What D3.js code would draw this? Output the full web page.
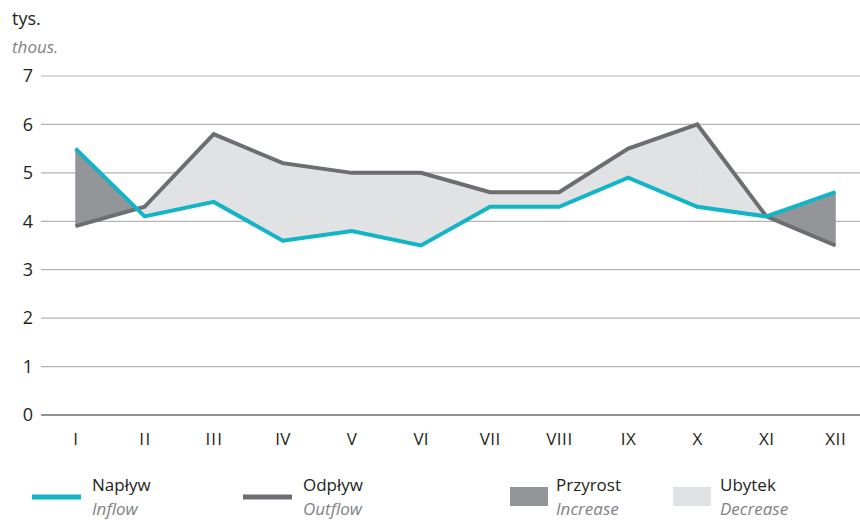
<!DOCTYPE html>
<html>
<head>
<meta charset="utf-8">
<script src="https://cdn.jsdelivr.net/npm/d3@7"></script>
<style>
  body { margin: 0; background: #fff; }
  svg { display: block; }
</style>
</head>
<body>
<div id="chart"></div>
<script>
// Napływ / odpływ – monthly, thousands
const months = ["I", "II", "III", "IV", "V", "VI", "VII", "VIII", "IX", "X", "XI", "XII"];
const inflow  = [5.5, 4.1, 4.4, 3.6, 3.8, 3.5, 4.3, 4.3, 4.9, 4.3, 4.1, 4.6];
const outflow = [3.9, 4.3, 5.8, 5.2, 5.0, 5.0, 4.6, 4.6, 5.5, 6.0, 4.1, 3.5];
const yTicks  = [0, 1, 2, 3, 4, 5, 6, 7];

const W = 860, H = 520;
const FONT = "'Open Sans', 'Noto Sans', sans-serif";
const C_IN = "#12b5c6", C_OUT = "#6d6e71", C_UP = "#939598", C_DOWN = "#e1e2e4";

const svg = d3.select("#chart").append("svg")
  .attr("width", W).attr("height", H)
  .attr("font-family", FONT);

const x = d3.scaleBand().domain(months).range([41, 870]).padding(0);
const cx = (i) => x(months[i]) + x.bandwidth() / 2;
const y = d3.scaleLinear().domain([0, 7]).range([415, 76]);

// gridlines
svg.append("g").selectAll("line").data(yTicks).join("line")
  .attr("x1", 41).attr("x2", W)
  .attr("y1", d => y(d)).attr("y2", d => y(d))
  .attr("stroke", d => d === 0 ? "#6d6e71" : "#b3b3b3")
  .attr("stroke-width", d => d === 0 ? 1.5 : 1.2);

svg.append("g").selectAll("text").data(yTicks).join("text")
  .attr("x", 33).attr("y", d => y(d))
  .attr("dy", "0.35em")
  .attr("text-anchor", "end")
  .attr("font-size", 18).attr("fill", "#231f20")
  .text(d => d);

svg.append("g").selectAll("text").data(months).join("text")
  .attr("x", (d, i) => cx(i)).attr("y", 445)
  .attr("text-anchor", "middle")
  .attr("font-size", 17).attr("fill", "#231f20")
  .attr("textLength", d => d.length * 5.5 + (d.match(/[VX]/g) || []).length * 4)
  .text(d => d);

svg.append("text").attr("x", 12).attr("y", 25)
  .attr("font-size", 18).attr("fill", "#231f20").text("tys.");
svg.append("text").attr("x", 12).attr("y", 53)
  .attr("font-size", 17).attr("font-style", "italic").attr("fill", "#808285").text("thous.");

// fill between the two lines, split at crossings
const segs = [];
for (let i = 0; i < months.length - 1; i++) {
  const d0 = inflow[i] - outflow[i], d1 = inflow[i + 1] - outflow[i + 1];
  if (d0 * d1 < 0) {
    const t = d0 / (d0 - d1);
    const xm = cx(i) + t * (cx(i + 1) - cx(i));
    const vm = inflow[i] + t * (inflow[i + 1] - inflow[i]);
    segs.push({ up: d0 > 0, pts: [[cx(i), inflow[i], outflow[i]], [xm, vm, vm]] });
    segs.push({ up: d1 > 0, pts: [[xm, vm, vm], [cx(i + 1), inflow[i + 1], outflow[i + 1]]] });
  } else {
    const up = (d0 + d1) > 0;
    segs.push({ up, pts: [[cx(i), inflow[i], outflow[i]], [cx(i + 1), inflow[i + 1], outflow[i + 1]]] });
  }
}
const area = d3.area().x(d => d[0]).y0(d => y(d[2])).y1(d => y(d[1]));
svg.append("g").selectAll("path").data(segs).join("path")
  .attr("d", d => area(d.pts))
  .attr("fill", d => d.up ? C_UP : C_DOWN)
  .attr("stroke", d => d.up ? C_UP : C_DOWN)
  .attr("stroke-width", 0.6);

const line = d3.line().x((d, i) => cx(i)).y(d => y(d));
svg.append("path").datum(outflow).attr("d", line)
  .attr("fill", "none").attr("stroke", C_OUT).attr("stroke-width", 4);
svg.append("path").datum(inflow).attr("d", line)
  .attr("fill", "none").attr("stroke", C_IN).attr("stroke-width", 4);

// legend
const legend = [
  { kind: "line", color: C_IN,   pl: "Napływ",   en: "Inflow",   x: 32,  tx: 92 },
  { kind: "line", color: C_OUT,  pl: "Odpływ",   en: "Outflow",  x: 243, tx: 303 },
  { kind: "rect", color: C_UP,   pl: "Przyrost", en: "Increase", x: 510, tx: 556 },
  { kind: "rect", color: C_DOWN, pl: "Ubytek",   en: "Decrease", x: 673, tx: 720 },
];
const lg = svg.append("g").selectAll("g").data(legend).join("g");
lg.filter(d => d.kind === "line").append("line")
  .attr("x1", d => d.x).attr("x2", d => d.x + 49)
  .attr("y1", 497).attr("y2", 497)
  .attr("stroke", d => d.color).attr("stroke-width", 5);
lg.filter(d => d.kind === "rect").append("rect")
  .attr("x", d => d.x).attr("y", 487).attr("width", 38).attr("height", 19)
  .attr("fill", d => d.color);
lg.append("text").attr("x", d => d.tx).attr("y", 491)
  .attr("font-size", 17).attr("fill", "#231f20").text(d => d.pl);
lg.append("text").attr("x", d => d.tx).attr("y", 515)
  .attr("font-size", 17).attr("font-style", "italic").attr("fill", "#808285").text(d => d.en);
</script>
</body>
</html>
